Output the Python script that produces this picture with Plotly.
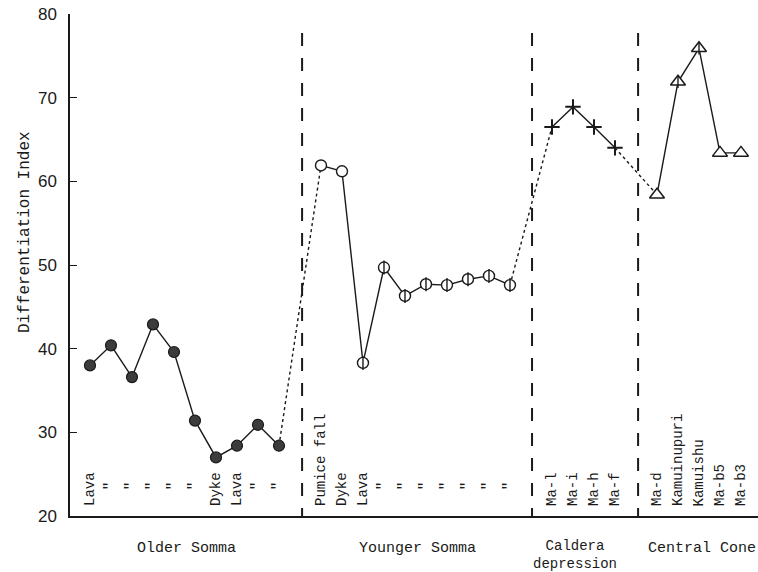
import plotly.graph_objects as go

# ---- data ----
older_labels = ["Lava", '"', '"', '"', '"', '"', "Dyke", "Lava", '"', '"']
older_vals = [38.0, 40.4, 36.6, 42.9, 39.6, 31.4, 27.0, 28.4, 30.9, 28.4]

younger_labels = ["Pumice fall", "Dyke", "Lava", '"', '"', '"', '"', '"', '"', '"']
younger_vals = [61.9, 61.2, 38.3, 49.7, 46.3, 47.7, 47.6, 48.3, 48.7, 47.6]
younger_bar = [False, False, True, True, True, True, True, True, True, True]

caldera_labels = ["Ma-l", "Ma-i", "Ma-h", "Ma-f"]
caldera_vals = [66.5, 68.9, 66.5, 64.0]

central_labels = ["Ma-d", "Kamuinupuri", "Kamuishu", "Ma-b5", "Ma-b3"]
central_vals = [58.4, 71.9, 75.9, 63.4, 63.4]
central_bar = [False, True, True, False, False]

group_names = ["Older Somma", "Younger Somma", "Caldera<br>depression", "Central Cone"]
y_ticks = [20, 30, 40, 50, 60, 70, 80]

# ---- positions (sample index along the section) ----
older_x = list(range(0, 10))
younger_x = list(range(11, 21))
caldera_x = list(range(22, 26))
central_x = list(range(27, 32))
dividers = [10.1, 21.05, 26.1]
group_centers = [4.6, 15.6, 23.1, 29.15]

INK = "#1a1a1a"
MONO = "Liberation Mono, DejaVu Sans Mono, monospace"
SANS = "Liberation Sans Narrow, Liberation Sans, Arial, sans-serif"

fig = go.Figure()

def solid(x, y):
    fig.add_trace(go.Scatter(x=x, y=y, mode="lines",
                             line=dict(color=INK, width=1.4), hoverinfo="skip"))

def dotted(x, y):
    fig.add_trace(go.Scatter(x=x, y=y, mode="lines",
                             line=dict(color=INK, width=1.4, dash="dot"), hoverinfo="skip"))

solid(older_x, older_vals)
solid(younger_x, younger_vals)
solid(caldera_x, caldera_vals)
solid(central_x, central_vals)
dotted([older_x[-1], younger_x[0]], [older_vals[-1], younger_vals[0]])
dotted([younger_x[-1], caldera_x[0]], [younger_vals[-1], caldera_vals[0]])
dotted([caldera_x[-1], central_x[0]], [caldera_vals[-1], central_vals[0]])

# markers
fig.add_trace(go.Scatter(x=older_x, y=older_vals, mode="markers",
                         marker=dict(symbol="circle", size=11, color="#3c3c3c",
                                     line=dict(color=INK, width=1.2))))
fig.add_trace(go.Scatter(x=younger_x, y=younger_vals, mode="markers",
                         marker=dict(symbol="circle", size=11, color="white",
                                     line=dict(color=INK, width=1.4))))
fig.add_trace(go.Scatter(x=[x for x, b in zip(younger_x, younger_bar) if b],
                         y=[v for v, b in zip(younger_vals, younger_bar) if b],
                         mode="markers",
                         marker=dict(symbol="line-ns-open", size=10, color=INK,
                                     line=dict(color=INK, width=1.4))))
fig.add_trace(go.Scatter(x=caldera_x, y=caldera_vals, mode="markers",
                         marker=dict(symbol="cross-thin-open", size=11, color=INK,
                                     line=dict(color=INK, width=2))))
fig.add_trace(go.Scatter(x=central_x, y=central_vals, mode="markers",
                         marker=dict(symbol="triangle-up", size=13, color="white",
                                     line=dict(color=INK, width=1.5))))
fig.add_trace(go.Scatter(x=[x for x, b in zip(central_x, central_bar) if b],
                         y=[v for v, b in zip(central_vals, central_bar) if b],
                         mode="markers",
                         marker=dict(symbol="line-ns-open", size=9, color=INK,
                                     line=dict(color=INK, width=1.4))))

# dashed dividers
for d in dividers:
    fig.add_shape(type="line", xref="x", yref="y", x0=d, x1=d, y0=19.4, y1=78.2,
                  line=dict(color=INK, width=2, dash="13px,12px"))

# rotated sample labels
annos = []
for xs, labs in [(older_x, older_labels), (younger_x, younger_labels),
                 (caldera_x, caldera_labels), (central_x, central_labels)]:
    for x, lab in zip(xs, labs):
        ditto = lab == '"'
        annos.append(dict(x=x, y=20, xref="x", yref="y", text=lab, showarrow=False,
                          textangle=-90, xanchor="center", yanchor="bottom",
                          yshift=24 if ditto else 8,
                          font=dict(family=MONO, size=15 if ditto else 14, color=INK)))

for cx, name in zip(group_centers, group_names):
    two = "<br>" in name
    annos.append(dict(x=cx, y=0, xref="x", yref="paper", text=name, showarrow=False,
                      xanchor="center", yanchor="top", yshift=-20 if two else -22,
                      align="center",
                      font=dict(family=MONO, size=14 if two else 15, color=INK)))

annos.append(dict(x=(25 - 70) / 688, y=(516 - 232) / 502, xref="paper", yref="paper",
                  text="Differentiation Index",
                  showarrow=False, textangle=-90, xanchor="center", yanchor="middle",
                  font=dict(family=MONO, size=16, color=INK)))

fig.update_layout(annotations=annos)

fig.update_layout(
    width=758, height=572,
    margin=dict(l=70, r=0, t=14, b=56),
    paper_bgcolor="white", plot_bgcolor="white",
    showlegend=False,
    xaxis=dict(range=[-0.952, 31.81], showgrid=False, zeroline=False,
               showticklabels=False, ticks="", showline=True,
               linecolor=INK, linewidth=1.5),
    yaxis=dict(range=[20, 80], tickvals=y_ticks, showgrid=False, zeroline=False,
               ticks="inside", ticklen=7, tickwidth=1.2, tickcolor=INK,
               showline=True, linecolor=INK, linewidth=1.5,
               tickfont=dict(family=SANS, size=17, color=INK), ticklabelstandoff=8),
)

fig.write_html("out.html")
